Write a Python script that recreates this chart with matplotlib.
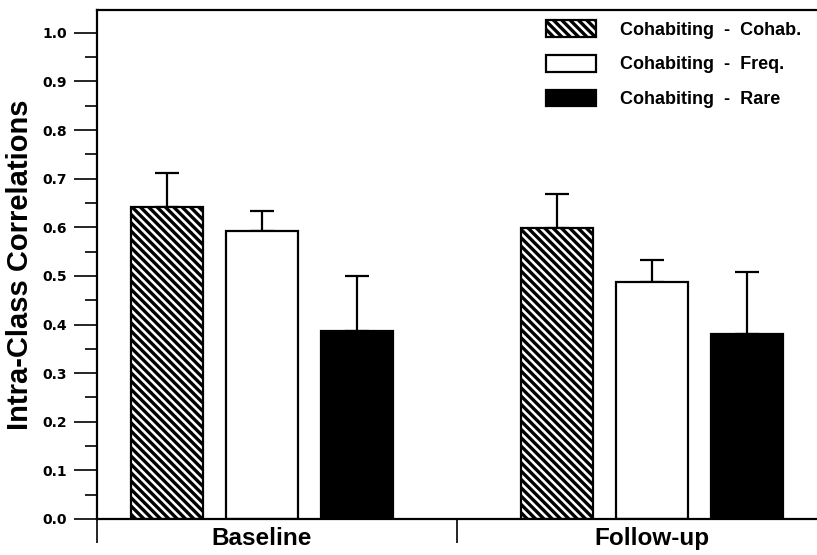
import numpy as np
import matplotlib
matplotlib.use('Agg')
import matplotlib.pyplot as plt

plt.rcParams['font.family'] = ['Liberation Sans', 'DejaVu Sans']
plt.rcParams['font.weight'] = 'bold'
plt.rcParams['hatch.linewidth'] = 2.4

groups = ['Baseline', 'Follow-up']
series = ['Cohabiting  -  Cohab.', 'Cohabiting  -  Freq.', 'Cohabiting  -  Rare']
#bar heights and upper error bars
cohab = [0.641, 0.598]
cohab_err = [0.070, 0.071]
freq = [0.593, 0.488]
freq_err = [0.041, 0.045]
rare = [0.387, 0.380]
rare_err = [0.113, 0.128]

values = [cohab, freq, rare]
errors = [cohab_err, freq_err, rare_err]
faces = ['white', 'white', 'black']
hatches = ['\\\\\\\\', None, None]

fig = plt.figure(figsize=(8.17, 5.55), dpi=100)
ax = fig.add_axes([97 / 817, 1 - 519 / 555, 720 / 817, 509 / 555])

x = np.arange(len(groups))
step = 0.244
width = 0.185
for i in range(3):
    ax.bar(x + (i - 1) * step, values[i], width, color=faces[i], edgecolor='black',
           linewidth=1.6, hatch=hatches[i], label=series[i], zorder=2)
    ax.errorbar(x + (i - 1) * step, values[i], yerr=[np.zeros(len(groups)), errors[i]],
                fmt='none', ecolor='black', elinewidth=1.6, capsize=8.5, capthick=1.6, zorder=1)

ax.set_xlim(-0.423, 1.423)
ax.set_ylim(0, 1.047)

#y axis: labelled ticks every 0.1, short ones in between
ax.set_yticks(np.arange(0, 1.01, 0.1))
ax.set_yticks(np.arange(0.05, 1.0, 0.1), minor=True)
ax.set_yticklabels(['%.1f' % v for v in np.arange(0, 1.01, 0.1)],
                   family='DejaVu Sans', fontweight='bold')
ax.tick_params(axis='y', which='major', length=16.5, width=1.2, labelsize=10, pad=5)
ax.tick_params(axis='y', which='minor', length=8.5, width=1.2)

#x axis: group names, divider ticks
ax.set_xticks(x)
ax.set_xticklabels(groups, fontsize=17.5, fontweight='bold')
ax.set_xticks([-0.423, 0.5], minor=True)
ax.tick_params(axis='x', which='major', length=0, pad=6)
ax.tick_params(axis='x', which='minor', length=17, width=1.2)

ax.set_ylabel('Intra-Class Correlations', fontsize=21, fontweight='bold')
ax.yaxis.set_label_coords(-0.088, 0.5)

for side in ['left', 'top', 'bottom']:
    ax.spines[side].set_linewidth(1.6)
ax.spines['right'].set_visible(False)

ax.legend(loc='upper left', bbox_to_anchor=(0.6236, 0.98), frameon=False,
          fontsize=13, handlelength=2.77, handleheight=1.05, handletextpad=1.33,
          labelspacing=0.9, borderpad=0, borderaxespad=0)

fig.savefig('out.png', dpi=100)
